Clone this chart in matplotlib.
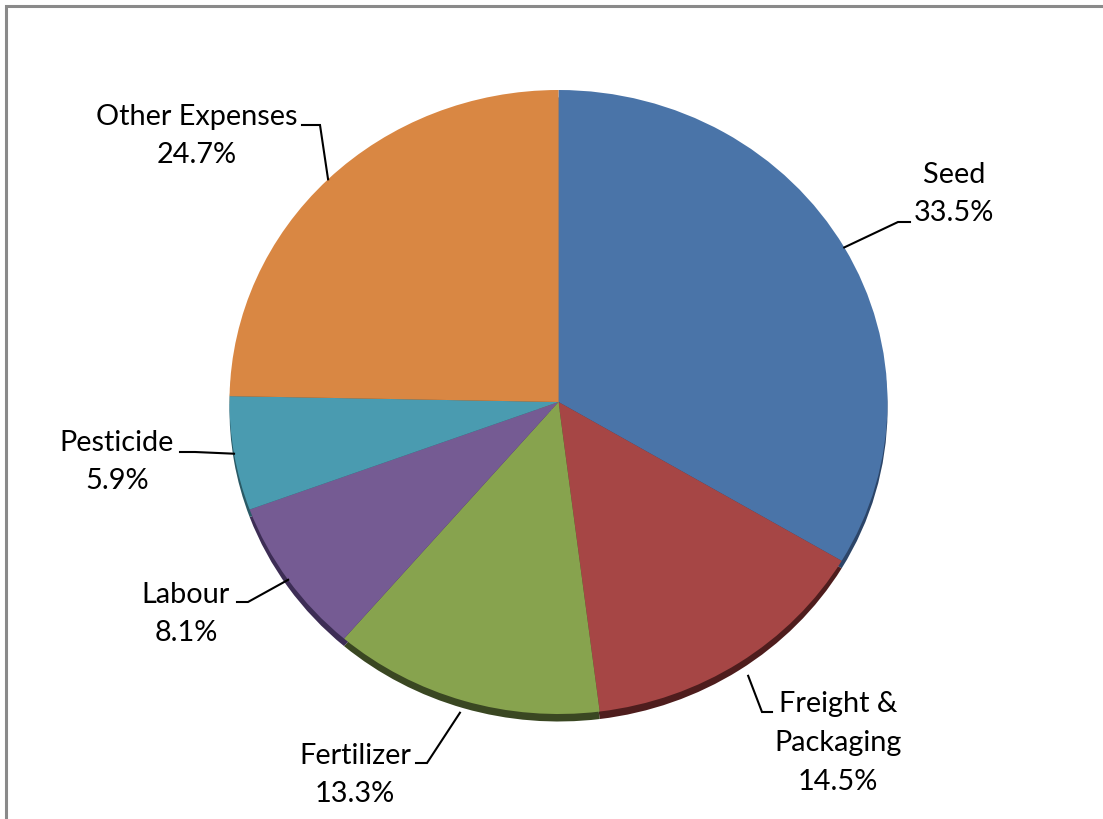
import matplotlib
matplotlib.use("Agg")
import numpy as np
import matplotlib.pyplot as plt
from matplotlib.lines import Line2D

# cost breakdown (percent of total)
categories = ["Seed", "Freight &\nPackaging", "Fertilizer", "Labour", "Pesticide", "Other Expenses"]
shares = [33.5, 14.5, 13.3, 8.1, 5.9, 24.7]
colors = ["#4a74a8", "#a64645", "#87a34e", "#755b93", "#4a9bb0", "#d98743"]
side_colors = ["#2c4568", "#4e1d1d", "#3a4722", "#3d2d55", "#2a5a66", "#7a4a22"]

W, H = 1103, 819
plt.rcParams["font.family"] = ["Lato", "DejaVu Sans"]

fig = plt.figure(figsize=(W / 100, H / 100), dpi=100)
ax = fig.add_axes([0, 0, 1, 1])

# pie is drawn a little wider than tall, centre at (558.5, 402) px
cx, cy, rx, ry = 558.5, 402, 329, 312
ax.set_xlim(-cx / rx, (W - cx) / rx)
ax.set_ylim(-(H - cy) / ry, cy / ry)

# darker copy slightly lower gives the bevelled bottom edge
ax.pie(shares, colors=side_colors, startangle=90, counterclock=False,
       center=(0, -0.024), radius=1.0, wedgeprops=dict(linewidth=0, zorder=1))
wedges, _ = ax.pie(shares, colors=colors, startangle=90, counterclock=False,
                   radius=1.0, wedgeprops=dict(linewidth=0, zorder=2))
ax.set_aspect("auto")
ax.set_xlim(-cx / rx, (W - cx) / rx)
ax.set_ylim(-(H - cy) / ry, cy / ry)
ax.axis("off")


def to_data(x, y):
    return ax.transData.inverted().transform((x, H - y))


# label layout in pixels: text centre, elbow, end of leader
label_pos = [(954, 194), (838, 743), (355, 775), (186, 614), (117, 462), (197, 136)]
elbows = [(898, 222), (762, 712), (427, 763), (248, 602), (195, 452), (320, 125)]
ends = [(910, 222), (772, 712), (416, 763), (237, 602), (180, 452), (302, 125)]
edge_r = [1.0, 1.05, 1.04, 1.0, 1.0, 1.0]

for w, name, val, tp, el, en, r in zip(wedges, categories, shares, label_pos, elbows, ends, edge_r):
    mid = np.deg2rad((w.theta1 + w.theta2) / 2)
    a = (r * np.cos(mid), r * np.sin(mid))
    e1 = to_data(*el)
    e2 = to_data(*en)
    ax.plot([a[0], e1[0], e2[0]], [a[1], e1[1], e2[1]], color="black", lw=1.5,
            zorder=3, solid_joinstyle="miter")
    t = to_data(*tp)
    ax.text(t[0], t[1], f"{name}\n{val:.1f}%", ha="center", va="center",
            fontsize=20.8, linespacing=1.6, color="black", zorder=4)

# chart-area frame: only the left and top edges fall inside the image
fig.lines.append(Line2D([6 / W, 6 / W, 1.0], [0.0, 1 - 6 / H, 1 - 6 / H],
                        transform=fig.transFigure, color="#8a8a8a", lw=2.2,
                        solid_joinstyle="miter"))

fig.savefig("out.png", dpi=100)
